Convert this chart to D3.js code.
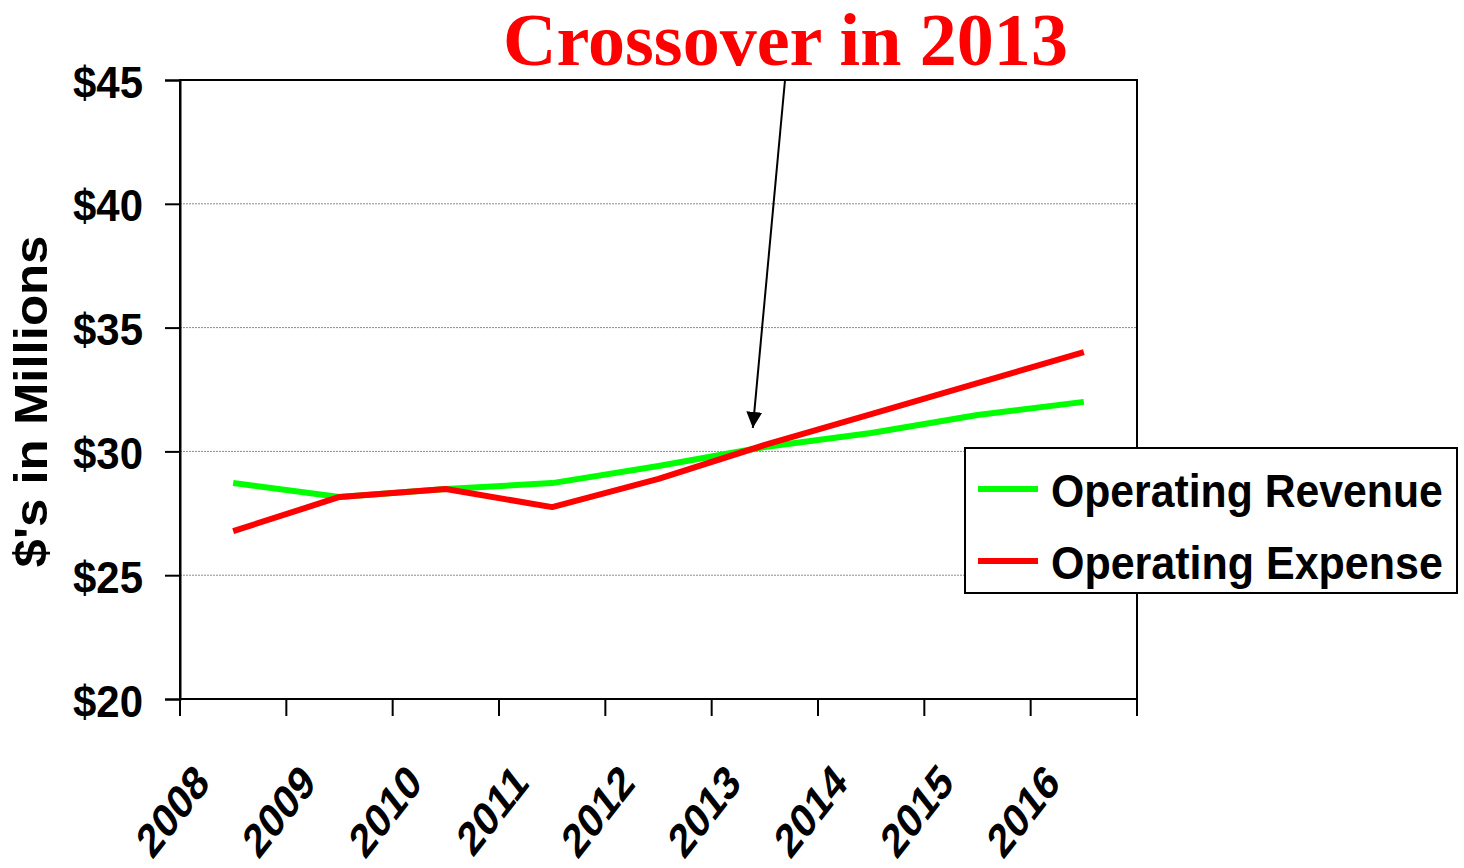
<!DOCTYPE html>
<html>
<head>
<meta charset="utf-8">
<script src="https://cdn.jsdelivr.net/npm/d3@7"></script>
<style>
  body { margin: 0; background: #fff; }
  svg { display: block; }
  text { font-family: "Liberation Sans", Arial, sans-serif; font-weight: bold; }
</style>
</head>
<body>
<svg id="chart"></svg>
<script>
const years = ['2008', '2009', '2010', '2011', '2012', '2013', '2014', '2015', '2016'];
const revenue = [28.72, 28.16, 28.48, 28.72, 29.41, 30.18, 30.74, 31.47, 32.0];
const expense = [26.78, 28.16, 28.48, 27.75, 28.89, 30.26, 31.51, 32.76, 34.01];
const yTicks = [20, 25, 30, 35, 40, 45];
const seriesNames = ['Operating Revenue', 'Operating Expense'];
const seriesColors = ['#00ff00', '#ff0000'];

const width = 1464;
const height = 868;
const margin = { top: 80, right: 327, bottom: 169, left: 180 };

const svg = d3.select('#chart').attr('width', width).attr('height', height);

// squeeze a text horizontally so it spans the given width
const squeeze = (sel, target) => {
  sel.each(function () {
    const w = this.getComputedTextLength();
    d3.select(this).attr('transform', `scale(${target / w},1)`);
  });
};

const x = d3.scaleBand()
  .domain(years)
  .range([margin.left, width - margin.right]);

const y = d3.scaleLinear()
  .domain([20, 45])
  .range([height - margin.bottom, margin.top]);

const cx = d => x(d) + x.bandwidth() / 2;

// gridlines
svg.append('g')
  .selectAll('line')
  .data(yTicks.filter(t => t > 20 && t < 45))
  .enter()
  .append('line')
  .attr('x1', margin.left)
  .attr('x2', width - margin.right)
  .attr('y1', d => y(d))
  .attr('y2', d => y(d))
  .attr('stroke', '#8a8a8a')
  .attr('stroke-width', 1)
  .attr('stroke-dasharray', '2,1');

// frame
svg.append('rect')
  .attr('x', margin.left)
  .attr('y', margin.top)
  .attr('width', width - margin.right - margin.left)
  .attr('height', height - margin.bottom - margin.top)
  .attr('fill', 'none')
  .attr('stroke', '#000')
  .attr('stroke-width', 2);

// y axis
const yAxis = svg.append('g')
  .attr('transform', `translate(${margin.left},0)`)
  .call(d3.axisLeft(y).tickValues(yTicks).tickSize(15).tickPadding(0).tickFormat(d => '$' + d));
yAxis.select('.domain').attr('stroke-width', 2);
yAxis.selectAll('.tick line').attr('stroke-width', 2);
yAxis.selectAll('.tick text').remove();
yAxis.selectAll('.tick')
  .append('g')
  .attr('transform', 'translate(-37,17)')
  .append('text')
  .attr('text-anchor', 'end')
  .attr('fill', '#000')
  .style('font-size', '45px')
  .text(d => '$' + d)
  .call(squeeze, 70);

// x axis: ticks at band edges, labels at band centers
const edges = years.map(d => x(d)).concat([x.range()[1]]);
svg.append('g')
  .selectAll('line')
  .data(edges)
  .enter()
  .append('line')
  .attr('x1', d => d)
  .attr('x2', d => d)
  .attr('y1', y(20))
  .attr('y2', y(20) + 17)
  .attr('stroke', '#000')
  .attr('stroke-width', 2);

svg.append('g')
  .selectAll('text')
  .data(years)
  .enter()
  .append('text')
  .attr('transform', d => `translate(${cx(d) - 22},${y(20) + 86}) scale(0.78,1) rotate(-45)`)
  .attr('text-anchor', 'end')
  .style('font-size', '48px')
  .text(d => d);

// y title
svg.append('g')
  .attr('transform', `translate(47,${(y(20) + y(45)) / 2 + 12}) rotate(-90)`)
  .append('text')
  .attr('text-anchor', 'middle')
  .style('font-size', '46px')
  .text("$'s in Millions")
  .call(squeeze, 332);

// lines
const line = d3.line()
  .x((d, i) => cx(years[i]))
  .y(d => y(d));

[revenue, expense].forEach((values, i) => {
  svg.append('path')
    .datum(values)
    .attr('fill', 'none')
    .attr('stroke', seriesColors[i])
    .attr('stroke-width', 6)
    .attr('stroke-linejoin', 'round')
    .attr('d', line);
});

// annotation
svg.append('defs')
  .append('marker')
  .attr('id', 'arrow')
  .attr('viewBox', '0 0 10 10')
  .attr('refX', 10)
  .attr('refY', 5)
  .attr('markerWidth', 8)
  .attr('markerHeight', 8)
  .attr('markerUnits', 'strokeWidth')
  .attr('orient', 'auto')
  .append('path')
  .attr('d', 'M0,0 L10,5 L0,10 Z')
  .attr('fill', '#000');

svg.append('line')
  .attr('x1', 785)
  .attr('y1', margin.top)
  .attr('x2', cx('2013') - 12)
  .attr('y2', y(30.95))
  .attr('stroke', '#000')
  .attr('stroke-width', 2)
  .attr('marker-end', 'url(#arrow)');

svg.append('g')
  .attr('transform', 'translate(503,65)')
  .append('text')
  .attr('fill', '#ff0000')
  .style('font-family', '"Liberation Serif", "Times New Roman", serif')
  .style('font-size', '73px')
  .text('Crossover in 2013')
  .call(squeeze, 565);

// legend
const legend = svg.append('g').attr('transform', 'translate(965,448)');
legend.append('rect')
  .attr('width', 492)
  .attr('height', 145)
  .attr('fill', '#fff')
  .attr('stroke', '#000')
  .attr('stroke-width', 2);

const items = legend.selectAll('.item')
  .data(seriesNames)
  .enter()
  .append('g')
  .attr('class', 'item')
  .attr('transform', (d, i) => `translate(0,${41 + i * 72})`);

items.append('line')
  .attr('x1', 13)
  .attr('x2', 73)
  .attr('stroke', (d, i) => seriesColors[i])
  .attr('stroke-width', 6);

items.append('g')
  .attr('transform', 'translate(86,18)')
  .append('text')
  .style('font-size', '47px')
  .text(d => d)
  .call(squeeze, 392);
</script>
</body>
</html>
